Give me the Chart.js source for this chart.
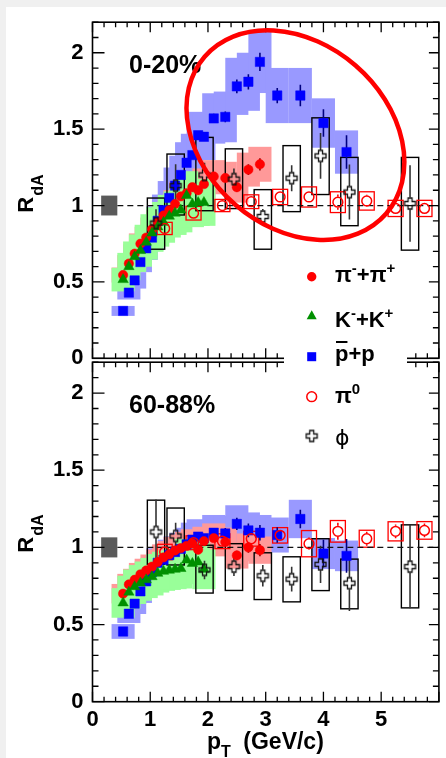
<!DOCTYPE html>
<html>
<head>
<meta charset="utf-8">
<title>R_dA identified hadrons</title>
<script src="https://cdn.jsdelivr.net/npm/chart.js@4.4.1/dist/chart.umd.min.js"></script>
<style>
  html, body { margin:0; padding:0; width:446px; height:758px; overflow:hidden; background:#f0f0f0; }
  #paper { position:absolute; left:6px; top:7px; width:440px; height:751px; background:#ffffff; }
  #cBot { position:absolute; left:0; top:340px; z-index:1; }
  #cTop { position:absolute; left:0; top:0; z-index:2; }
</style>
</head>
<body>
<div id="paper"></div>
<canvas id="cBot" width="446" height="418"></canvas>
<canvas id="cTop" width="446" height="460"></canvas>
<script>
// ======================= DATA =======================
const panelLabels = ['0-20%', '60-88%'];
const xTickLabels = ['0', '1', '2', '3', '4', '5', ''];
const yTickLabels = ['0', '0.5', '1', '1.5', '2'];

// pT bins (GeV/c)
const pidPt    = [0.53,0.63,0.73,0.83,0.93,1.03,1.13,1.23,1.33,1.43,1.53,1.63,1.73,1.83,1.93,2.1,2.3,2.5,2.7,2.9];
const kaonPt   = [0.53,0.63,0.73,0.83,0.93,1.03,1.13,1.23,1.33,1.43,1.53,1.63,1.73,1.83,1.93];
const protonPt = [0.53,0.63,0.73,0.83,0.93,1.03,1.13,1.23,1.33,1.43,1.53,1.63,1.73,1.83,1.93,2.1,2.3,2.5,2.7,2.9,3.2,3.6,4.0,4.4];
const pi0Pt    = [1.25,1.75,2.25,2.75,3.25,3.75,4.25,4.75,5.25,5.75];
const phiPt    = [1.1,1.44,1.94,2.45,2.95,3.45,3.95,4.45,5.5];

// ---- 0-20% ----
const piTop      = [0.545,0.62,0.685,0.75,0.79,0.845,0.89,0.935,0.97,1.01,1.06,1.08,1.12,1.10,1.14,1.19,1.18,1.12,1.235,1.27];
const piTopStat  = [0.01,0.01,0.01,0.01,0.01,0.01,0.01,0.01,0.01,0.01,0.01,0.01,0.01,0.01,0.01,0.02,0.025,0.03,0.035,0.04];
const kTop       = [0.515,0.60,0.665,0.705,0.76,0.82,0.86,0.89,0.93,0.95,0.97,1.065,1.01,1.02,1.02];
const pTop       = [0.31,0.43,0.51,0.63,0.72,0.79,0.90,0.97,1.05,1.13,1.20,1.28,1.33,1.46,1.45,1.57,1.58,1.78,1.81,1.94,1.72,1.72,1.54,1.35];
const pTopStat   = [0.01,0.01,0.01,0.01,0.01,0.01,0.01,0.01,0.01,0.01,0.01,0.01,0.01,0.02,0.02,0.03,0.035,0.045,0.05,0.06,0.05,0.07,0.09,0.11];
const pi0Top     = [0.85,0.95,1.0,1.025,1.056,1.056,1.022,1.03,0.981,0.981];
const pi0TopSys  = [0.04,0.045,0.04,0.045,0.05,0.066,0.068,0.06,0.053,0.053];
const pi0TopStat = [0.01,0.015,0.02,0.025,0.03,0.035,0.05,0.04,0.03,0.03];
const phiTop     = [0.885,1.13,1.20,1.173,0.928,1.179,1.325,1.088,1.013];
const phiTopStat = [0.09,0.14,0.08,0.07,0.05,0.085,0.15,0.18,0.25];
const phiTopSysLo = [0.714,0.938,0.966,0.98,0.714,0.96,1.072,0.868,0.708];
const phiTopSysHi = [1.049,1.337,1.446,1.371,1.104,1.392,1.574,1.315,1.315];

// ---- 60-88% ----
const piBot      = [0.70,0.76,0.79,0.825,0.85,0.875,0.905,0.935,0.955,0.98,0.995,1.01,1.025,0.985,1.04,1.06,1.035,0.948,1.0,0.982];
const piBotStat  = [0.01,0.01,0.01,0.01,0.01,0.01,0.01,0.01,0.01,0.01,0.01,0.01,0.01,0.01,0.01,0.02,0.025,0.03,0.035,0.04];
const kBot       = [0.64,0.71,0.745,0.77,0.79,0.81,0.832,0.845,0.852,0.858,0.863,0.918,0.896,0.905,0.858];
const pBot       = [0.455,0.57,0.635,0.715,0.78,0.84,0.90,0.92,0.95,0.97,0.99,1.02,1.05,1.07,1.06,1.095,1.09,1.152,1.11,1.095,1.08,1.184,0.96,0.945];
const pBotStat   = [0.01,0.01,0.01,0.01,0.01,0.01,0.01,0.01,0.01,0.01,0.01,0.01,0.01,0.02,0.02,0.03,0.035,0.04,0.045,0.05,0.05,0.06,0.09,0.11];
const pi0Bot     = [0.97,1.03,1.04,1.056,1.078,1.024,1.104,1.056,1.104,1.11];
const pi0BotSys  = [0.05,0.045,0.048,0.048,0.05,0.085,0.07,0.055,0.062,0.057];
const pi0BotStat = [0.02,0.02,0.025,0.03,0.035,0.04,0.055,0.045,0.045,0.045];
const phiBot     = [1.1,1.074,0.854,0.875,0.816,0.794,0.89,0.768,0.875];
const phiBotStat = [0.21,0.085,0.06,0.06,0.07,0.08,0.12,0.18,0.27];
const phiBotSysLo = [0.89,0.886,0.704,0.721,0.662,0.647,0.72,0.602,0.608];
const phiBotSysHi = [1.306,1.255,1.014,1.024,0.965,0.939,1.056,0.924,1.146];

// relative systematic uncertainties of the identified-hadron bands
const piSysRel = 0.09, kSysRel = 0.15, pSysRel = 0.105;
// global normalisation uncertainty (grey box at R=1)
const normUnc = 0.065;
// highlighted region (centre of the red ellipse, data coords)
const ellipseCentre = [3.515, 1.461];

// ======================= STYLE =======================
const FONT = '"Liberation Sans", Arial, sans-serif';
Chart.defaults.font.family = FONT;
const BIN_HALF = 0.2, PHI_HALF = 0.15, PI0_HALF = 0.13, NORM_X = 0.29, NORM_HALF = 0.14;
const C_RED = '#ff0000', C_BLUE = '#0000ff', C_GREEN = '#009000';
const B_RED = '#ff9999', B_BLUE = '#9999ff', B_GREEN = '#99ff99';
const CROSS_S = 5.5, CROSS_W = 2.0;

function crossImage(color) {
  const c = document.createElement('canvas');
  c.width = 15; c.height = 15;
  const g = c.getContext('2d');
  const o = 7.5, s = CROSS_S, w = CROSS_W;
  const pts = [[-w,-s],[w,-s],[w,-w],[s,-w],[s,w],[w,w],[w,s],[-w,s],[-w,w],[-s,w],[-s,-w],[-w,-w]];
  g.beginPath();
  pts.forEach(([a,b],i) => i ? g.lineTo(o+a,o+b) : g.moveTo(o+a,o+b));
  g.closePath();
  g.lineWidth = 1.3; g.strokeStyle = color; g.stroke();
  return c;
}
const CROSS_IMG = crossImage('#111');

const TOP = { name:'top', label: panelLabels[0], pi: piTop, piStat: piTopStat, k: kTop, p: pTop, pStat: pTopStat,
  pi0: pi0Top, pi0Sys: pi0TopSys, pi0Stat: pi0TopStat, phi: phiTop, phiStat: phiTopStat, phiLo: phiTopSysLo, phiHi: phiTopSysHi };
const BOT = { name:'bot', label: panelLabels[1], pi: piBot, piStat: piBotStat, k: kBot, p: pBot, pStat: pBotStat,
  pi0: pi0Bot, pi0Sys: pi0BotSys, pi0Stat: pi0BotStat, phi: phiBot, phiStat: phiBotStat, phiLo: phiBotSysLo, phiHi: phiBotSysHi };

const pts = (xs, ys) => xs.map((x, i) => ({ x, y: ys[i] }));

function makeDatasets(P) {
  return [
    { label:'phi', data: pts(phiPt, P.phi), pointStyle: CROSS_IMG, pointRadius: 6 },
    { label:'pi0', data: pts(pi0Pt, P.pi0), pointStyle:'circle', pointRadius:4.9, pointHoverRadius:4.9,
      pointBackgroundColor:'rgba(0,0,0,0)', pointBorderColor:C_RED, pointBorderWidth:1.5 },
    { label:'K', data: pts(kaonPt, P.k), pointStyle:'triangle', pointRadius:6, pointHoverRadius:6,
      pointBackgroundColor:C_GREEN, pointBorderColor:C_GREEN, pointBorderWidth:0.5 },
    { label:'pi', data: pts(pidPt, P.pi), pointStyle:'circle', pointRadius:4.7, pointHoverRadius:4.7,
      pointBackgroundColor:C_RED, pointBorderColor:C_RED, pointBorderWidth:0.5 },
    { label:'p', data: pts(protonPt, P.p), pointStyle:'rect', pointRadius:6.6, pointHoverRadius:6.6,
      pointBackgroundColor:C_BLUE, pointBorderColor:C_BLUE, pointBorderWidth:0.5 }
  ];
}

function richText(ctx, x, y, parts) {
  let cx = x;
  for (const p of parts) {
    ctx.font = `${p.w || 'bold'} ${p.s || 22}px ${p.f || FONT}`;
    ctx.fillText(p.t, cx, y + (p.dy || 0));
    const w = ctx.measureText(p.t).width;
    if (p.over !== undefined) ctx.fillRect(cx + 1, y + p.over, w - 2, 2);
    cx += w + (p.gap || 0);
  }
}

function panelPlugin(P, isTop) {
  return {
    id: 'panel_' + P.name,
    beforeDatasetsDraw(chart) {
      const { ctx, chartArea: a } = chart;
      const xs = chart.scales.x, ys = chart.scales.y;
      const X = v => xs.getPixelForValue(v), Y = v => ys.getPixelForValue(v);
      ctx.save();
      ctx.beginPath(); ctx.rect(a.left, a.top, a.right - a.left, a.bottom - a.top); ctx.clip();
      // systematic bands
      const band = (xv, yv, rel, col) => {
        ctx.fillStyle = col;
        xv.forEach((x, i) => {
          const x0 = X(x - BIN_HALF), x1 = X(x + BIN_HALF);
          const y0 = Y(yv[i] * (1 + rel)), y1 = Y(yv[i] * (1 - rel));
          ctx.fillRect(x0, y0, x1 - x0, y1 - y0);
        });
      };
      band(protonPt, P.p, pSysRel, B_BLUE);
      band(pidPt, P.pi, piSysRel, B_RED);
      band(kaonPt, P.k, kSysRel, B_GREEN);
      // phi systematic boxes
      ctx.strokeStyle = '#000'; ctx.lineWidth = 1.4;
      phiPt.forEach((x, i) => {
        const x0 = X(x - PHI_HALF), x1 = X(x + PHI_HALF);
        const y0 = Y(P.phiHi[i]), y1 = Y(P.phiLo[i]);
        ctx.strokeRect(x0, y0, x1 - x0, y1 - y0);
      });
      // pi0 systematic boxes
      ctx.strokeStyle = C_RED; ctx.lineWidth = 1.3;
      pi0Pt.forEach((x, i) => {
        const x0 = X(x - PI0_HALF), x1 = X(x + PI0_HALF);
        const y0 = Y(P.pi0[i] + P.pi0Sys[i]), y1 = Y(P.pi0[i] - P.pi0Sys[i]);
        ctx.strokeRect(x0, y0, x1 - x0, y1 - y0);
      });
      // dashed unity line
      ctx.strokeStyle = '#111'; ctx.lineWidth = 1.3; ctx.setLineDash([6, 4]);
      ctx.beginPath(); ctx.moveTo(X(NORM_X + NORM_HALF), Y(1)); ctx.lineTo(a.right, Y(1)); ctx.stroke();
      ctx.setLineDash([]);
      // stat error bars
      const err = (xv, yv, ev, col, gap) => {
        ctx.strokeStyle = col; ctx.lineWidth = 1.6; ctx.beginPath();
        xv.forEach((x, i) => {
          const px = X(x), py = Y(yv[i]), pu = Y(yv[i] + ev[i]), pd = Y(yv[i] - ev[i]);
          if (py - pu > gap) { ctx.moveTo(px, pu); ctx.lineTo(px, py - gap); }
          if (pd - py > gap) { ctx.moveTo(px, py + gap); ctx.lineTo(px, pd); }
        });
        ctx.stroke();
      };
      err(protonPt, P.p, P.pStat, '#000080', 0);
      err(pidPt, P.pi, P.piStat, '#900000', 0);
      err(pi0Pt, P.pi0, P.pi0Stat, C_RED, 5.5);
      err(phiPt, P.phi, P.phiStat, '#333', CROSS_S + 0.5);
      ctx.restore();
      // normalisation box
      ctx.save();
      ctx.fillStyle = '#5a5a5a';
      const nx0 = X(NORM_X - NORM_HALF), nx1 = X(NORM_X + NORM_HALF);
      ctx.fillRect(nx0, Y(1 + normUnc), nx1 - nx0, Y(1 - normUnc) - Y(1 + normUnc));
      ctx.restore();
    },
    afterDatasetsDraw(chart) {
      const { ctx, chartArea: a } = chart;
      const xs = chart.scales.x, ys = chart.scales.y;
      const X = v => xs.getPixelForValue(v), Y = v => ys.getPixelForValue(v);
      ctx.save();
      // ticks (inward) and frame
      ctx.strokeStyle = '#000'; ctx.lineWidth = 1.3; ctx.beginPath();
      for (let k = 0; k <= 30; k++) {
        const px = X(k * 0.2), L = (k % 5 === 0) ? 10 : 5;
        ctx.moveTo(px, a.bottom); ctx.lineTo(px, a.bottom - L);
        ctx.moveTo(px, a.top); ctx.lineTo(px, a.top + L);
      }
      for (let k = 0; k <= 22; k++) {
        const py = Y(k * 0.1), major = (k % 5 === 0);
        ctx.moveTo(a.left, py); ctx.lineTo(a.left + (major ? 12 : 6), py);
        ctx.moveTo(a.right, py); ctx.lineTo(a.right - (major ? 10 : 6), py);
      }
      ctx.stroke();
      ctx.lineWidth = 1.6;
      ctx.strokeRect(a.left, a.top, a.right - a.left, a.bottom - a.top);
      // panel label
      ctx.fillStyle = '#000'; ctx.textAlign = 'left'; ctx.textBaseline = 'alphabetic';
      ctx.font = `bold 25px ${FONT}`;
      ctx.fillText(P.label, 129, a.top + 51);
      // R_dA title
      ctx.save();
      ctx.translate(33, a.top + 190.5); ctx.rotate(-Math.PI / 2);
      ctx.font = `bold 22px ${FONT}`; ctx.fillText('R', 0, 0);
      const wR = ctx.measureText('R').width;
      ctx.font = `bold 16px ${FONT}`; ctx.fillText('dA', wR + 1, 10);
      ctx.restore();
      if (isTop) {
        // highlight ellipse
        ctx.beginPath();
        ctx.ellipse(X(ellipseCentre[0]), Y(ellipseCentre[1]), 120, 92, 40.8 * Math.PI / 180, 0, 2 * Math.PI);
        ctx.lineWidth = 4.5; ctx.strokeStyle = '#ff0000'; ctx.stroke();
        // legend
        ctx.fillStyle = '#fff'; ctx.fillRect(284, 252, 123, 204);
        const mx = 311.7;
        ctx.fillStyle = C_RED; ctx.beginPath(); ctx.arc(mx, 276.7, 4.7, 0, 2 * Math.PI); ctx.fill();
        ctx.fillStyle = C_GREEN; ctx.beginPath();
        ctx.moveTo(mx, 310.3); ctx.lineTo(mx + 5, 319.3); ctx.lineTo(mx - 5, 319.3); ctx.closePath(); ctx.fill();
        ctx.fillStyle = C_BLUE; ctx.fillRect(mx - 4.5, 352.2, 9, 9);
        ctx.strokeStyle = C_RED; ctx.lineWidth = 1.5; ctx.beginPath(); ctx.arc(mx, 396.7, 4.9, 0, 2 * Math.PI); ctx.stroke();
        ctx.drawImage(CROSS_IMG, mx - 7.5, 436 - 7.5);
        ctx.fillStyle = '#000';
        const tx = 335;
        richText(ctx, tx, 282, [{t:'π'},{t:'-', s:15, dy:-9},{t:'+'},{t:'π'},{t:'+', s:15, dy:-9}]);
        richText(ctx, tx, 326.5, [{t:'K'},{t:'-', s:15, dy:-9},{t:'+'},{t:'K'},{t:'+', s:15, dy:-9}]);
        richText(ctx, tx, 361, [{t:'p', over:-20},{t:'+'},{t:'p'}]);
        richText(ctx, tx, 402.5, [{t:'π'},{t:'0', s:15, dy:-9}]);
        richText(ctx, tx, 445, [{t:'ϕ', w:'normal', f:'"DejaVu Sans"'}]);
      } else {
        // x title
        ctx.fillStyle = '#000';
        ctx.font = `bold 23px ${FONT}`; ctx.fillText('p', 207, 408.5);
        ctx.font = `bold 16px ${FONT}`; ctx.fillText('T', 221, 417);
        ctx.font = `bold 23px ${FONT}`; ctx.fillText('(GeV/c)', 243.3, 408.5);
      }
      ctx.restore();
    }
  };
}

function makeChart(canvasId, P, isTop) {
  const yScale = {
    type:'linear', position:'left', min:0, max:2.2,
    afterFit: s => { s.width = 92.5; },
    grid:{ display:false, drawTicks:false }, border:{ display:false },
    ticks:{ stepSize:0.5, includeBounds:false, padding:9, color:'#000',
      font:{ family:FONT, size:22, weight:'bold' },
      callback:(v, i) => yTickLabels[i] !== undefined ? yTickLabels[i] : '' }
  };
  const xScale = isTop ? { type:'linear', min:0, max:6, display:false } : {
    type:'linear', position:'bottom', min:0, max:6,
    afterFit: s => { s.height = 56.3; },
    grid:{ display:false, drawTicks:false }, border:{ display:false },
    ticks:{ stepSize:1, includeBounds:false, padding:5, color:'#000', maxRotation:0, autoSkip:false,
      font:{ family:FONT, size:22, weight:'bold' },
      callback:(v, i) => xTickLabels[i] !== undefined ? xTickLabels[i] : '' }
  };
  return new Chart(document.getElementById(canvasId), {
    type:'scatter',
    data:{ datasets: makeDatasets(P) },
    options:{
      responsive:false, maintainAspectRatio:false, animation:false, devicePixelRatio:1, events:[],
      layout:{ padding: isTop ? { left:0, right:1, top:14.7, bottom:101.7 } : { left:0, right:1, top:18.3, bottom:0 } },
      scales:{ x: xScale, y: yScale },
      plugins:{ legend:{ display:false }, tooltip:{ enabled:false } }
    },
    plugins:[ panelPlugin(P, isTop) ]
  });
}

makeChart('cBot', BOT, false);
makeChart('cTop', TOP, true);
</script>
</body>
</html>
